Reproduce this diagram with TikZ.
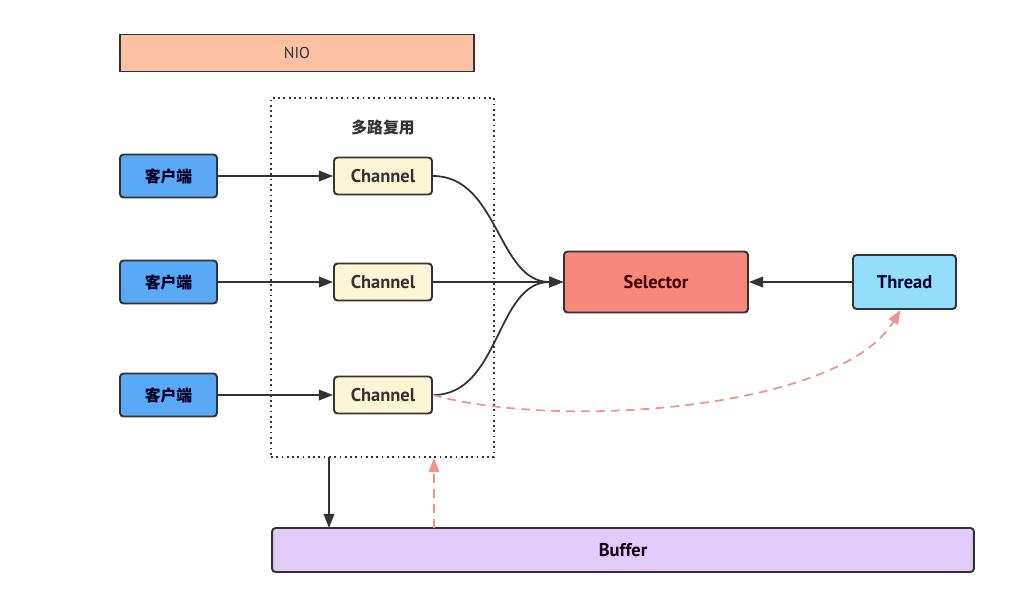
\documentclass[tikz,border=0pt]{standalone}
\usepackage{fontspec}
\setmainfont{PT Sans}
\newfontfamily\cjk{Noto Sans CJK SC}
\usetikzlibrary{arrows.meta,positioning}

\definecolor{lineGray}{HTML}{333333}
\definecolor{nioFill}{HTML}{FBC1A2}
\definecolor{clientFill}{HTML}{5AA9F6}
\definecolor{channelFill}{HTML}{FFF6D5}
\definecolor{selectorFill}{HTML}{F5887B}
\definecolor{threadFill}{HTML}{93DFFB}
\definecolor{bufferFill}{HTML}{E1CBF8}
\definecolor{dashRed}{HTML}{EE958C}

\begin{document}
\begin{tikzpicture}[x=0.02cm, y=-0.02cm, font=\fontsize{10.5}{12}\selectfont\bfseries,
    box/.style={draw=lineGray, line width=1.1pt, rounded corners=2pt, text=lineGray},
    client/.style={box, fill=clientFill, text=black!85!blue, minimum width=1.94cm, minimum height=0.86cm, font=\fontsize{9}{11}\selectfont\cjk\bfseries},
    channel/.style={box, fill=channelFill, minimum width=1.96cm, minimum height=0.74cm},
    arr/.style={-{Triangle[length=8pt,width=6pt]}, line width=1pt, draw=lineGray},
    dasharr/.style={-{Triangle[length=8pt,width=6pt]}, line width=1pt, draw=dashRed, dash pattern=on 5pt off 3.5pt}]
  \useasboundingbox (0,0) rectangle (1021,610);

  \node[box, rounded corners=0pt, fill=nioFill, minimum width=7.08cm, minimum height=0.74cm, font=\fontsize{9}{11}\selectfont] (nio) at (297,53) {NIO};

  \node[draw=lineGray, line width=1pt, dotted, minimum width=4.46cm, minimum height=7.18cm] (mux) at (382.5,277.5) {};
  \node[font=\fontsize{9}{11}\selectfont\cjk\bfseries, text=lineGray] (muxlabel) at (383,127) {多路复用};

  \node[client] (cli_1) at (168.5,176) {客户端};
  \node[client] (cli_2) at (168.5,282) {客户端};
  \node[client] (cli_3) at (168.5,395) {客户端};

  \node[channel] (ch_1) at (383,176) {Channel};
  \node[channel] (ch_2) at (383,282) {Channel};
  \node[channel] (ch_3) at (383,395) {Channel};

  \node[box, fill=selectorFill, text=black!75!red, minimum width=3.68cm, minimum height=1.22cm] (sel) at (656,282) {Selector};
  \node[box, fill=threadFill, text=black!80!blue, minimum width=2.06cm, minimum height=1.08cm] (thread) at (904.5,282) {Thread};
  \node[box, fill=bufferFill, text=black!80!violet, minimum width=14.04cm, minimum height=0.88cm] (buffer) at (623,550) {Buffer};

  \coordinate (down_top) at (329,457);
  \coordinate (down_bot) at (329,528);
  \coordinate (up_bot) at (434,528);
  \coordinate (up_top) at (434,458);

  \draw[arr] (cli_1) -- (ch_1);
  \draw[arr] (cli_2) -- (ch_2);
  \draw[arr] (cli_3) -- (ch_3);
  \draw[arr] (ch_1.east) to[out=0, in=180] (sel.west);
  \draw[arr] (ch_2) -- (sel);
  \draw[arr] (ch_3.east) to[out=0, in=180] (sel.west);
  \draw[arr] (thread) -- (sel);
  \draw[arr] (down_top) -- (down_bot);
  \draw[dasharr] (up_bot) -- (up_top);
  \draw[dasharr] (ch_3.east) .. controls (560,430) and (840,410) .. ([xshift=-0.08cm]thread.south);
\end{tikzpicture}
\end{document}
